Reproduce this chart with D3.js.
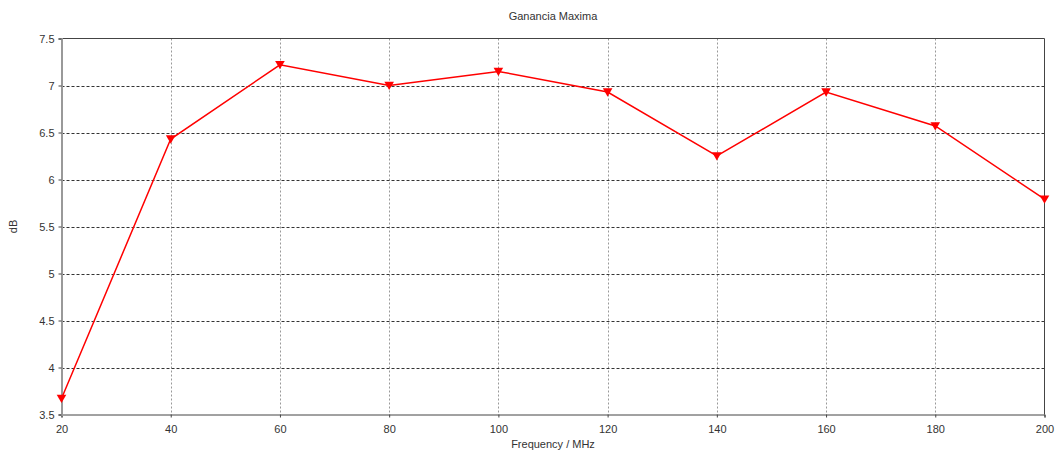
<!DOCTYPE html>
<html>
<head>
<meta charset="utf-8">
<script src="https://cdn.jsdelivr.net/npm/d3@7"></script>
<style>
  body { margin: 0; background: #fff; }
  text { font-family: "Liberation Sans", Arial, sans-serif; fill: #333; }
</style>
</head>
<body>
<div id="chart"></div>
<script>
// chart data
const frequencies = [20, 40, 60, 80, 100, 120, 140, 160, 180, 200];
const gainValues = [3.67, 6.43, 7.22, 7.0, 7.15, 6.93, 6.25, 6.93, 6.57, 5.79];
const xTicks = [20, 40, 60, 80, 100, 120, 140, 160, 180, 200];
const yTicks = [3.5, 4, 4.5, 5, 5.5, 6, 6.5, 7, 7.5];

const width = 1055, height = 456;
const margin = { top: 38.5, right: 10.5, bottom: 41.5, left: 61.5 };

const svg = d3.select('#chart')
    .append('svg')
    .attr('width', width)
    .attr('height', height);

const x = d3.scaleLinear().domain([20, 200]).range([margin.left, width - margin.right]);
const y = d3.scaleLinear().domain([3.5, 7.5]).range([height - margin.bottom, margin.top]);

// grid lines
svg.append('g')
    .selectAll('line')
    .data(xTicks.slice(1, -1))
    .enter()
    .append('line')
    .attr('x1', d => Math.round(x(d)) + 0.5)
    .attr('x2', d => Math.round(x(d)) + 0.5)
    .attr('y1', margin.top)
    .attr('y2', height - margin.bottom)
    .attr('stroke', '#999')
    .attr('stroke-dasharray', '2,2');

svg.append('g')
    .selectAll('line')
    .data(yTicks.slice(1, -1))
    .enter()
    .append('line')
    .attr('x1', margin.left)
    .attr('x2', width - margin.right)
    .attr('y1', d => Math.round(y(d)) + 0.5)
    .attr('y2', d => Math.round(y(d)) + 0.5)
    .attr('stroke', '#333')
    .attr('stroke-dasharray', '3,2');

// frame: top and right
svg.append('path')
    .attr('d', `M${margin.left},${margin.top}H${width - margin.right}V${height - margin.bottom}`)
    .attr('fill', 'none')
    .attr('stroke', '#444');

// axes
const xAxis = svg.append('g')
    .attr('transform', `translate(0,${height - margin.bottom})`)
    .call(d3.axisBottom(x).tickValues(xTicks).tickSize(3).tickPadding(8).tickFormat(d3.format('d')));
xAxis.select('.domain').attr('stroke', '#444');
xAxis.selectAll('.tick line').attr('stroke', '#444');
xAxis.selectAll('text').attr('font-size', 11).attr('fill', '#333').attr('font-family', '"Liberation Sans", Arial, sans-serif');

const yAxis = svg.append('g')
    .attr('transform', `translate(${margin.left},0)`)
    .call(d3.axisLeft(y).tickValues(yTicks).tickSize(3).tickPadding(4).tickFormat(d => d3.format('')(d)));
yAxis.select('.domain').attr('stroke', '#999').attr('stroke-width', 2);
yAxis.selectAll('.tick line').attr('stroke', '#444');
yAxis.selectAll('text').attr('font-size', 11).attr('fill', '#333').attr('font-family', '"Liberation Sans", Arial, sans-serif');

// data line
const line = d3.line()
    .x((d, i) => x(frequencies[i]))
    .y(d => y(d));

svg.append('path')
    .datum(gainValues)
    .attr('d', line)
    .attr('fill', 'none')
    .attr('stroke', '#ff0000')
    .attr('stroke-width', 1.5);

// triangle markers
const tri = d3.symbol().type(d3.symbolTriangle).size(40);
svg.append('g')
    .selectAll('path')
    .data(gainValues)
    .enter()
    .append('path')
    .attr('d', tri)
    .attr('transform', (d, i) => `translate(${x(frequencies[i])},${y(d) - 1}) rotate(180)`)
    .attr('fill', '#ff0000');

// labels
svg.append('text')
    .attr('x', (margin.left + width - margin.right) / 2)
    .attr('y', 20)
    .attr('text-anchor', 'middle')
    .attr('font-size', 11)
    .text('Ganancia Maxima');

svg.append('text')
    .attr('x', (margin.left + width - margin.right) / 2)
    .attr('y', 448)
    .attr('text-anchor', 'middle')
    .attr('font-size', 11)
    .text('Frequency / MHz');

svg.append('text')
    .attr('transform', `translate(17,${(margin.top + height - margin.bottom) / 2}) rotate(-90)`)
    .attr('text-anchor', 'middle')
    .attr('font-size', 11)
    .text('dB');
</script>
</body>
</html>
